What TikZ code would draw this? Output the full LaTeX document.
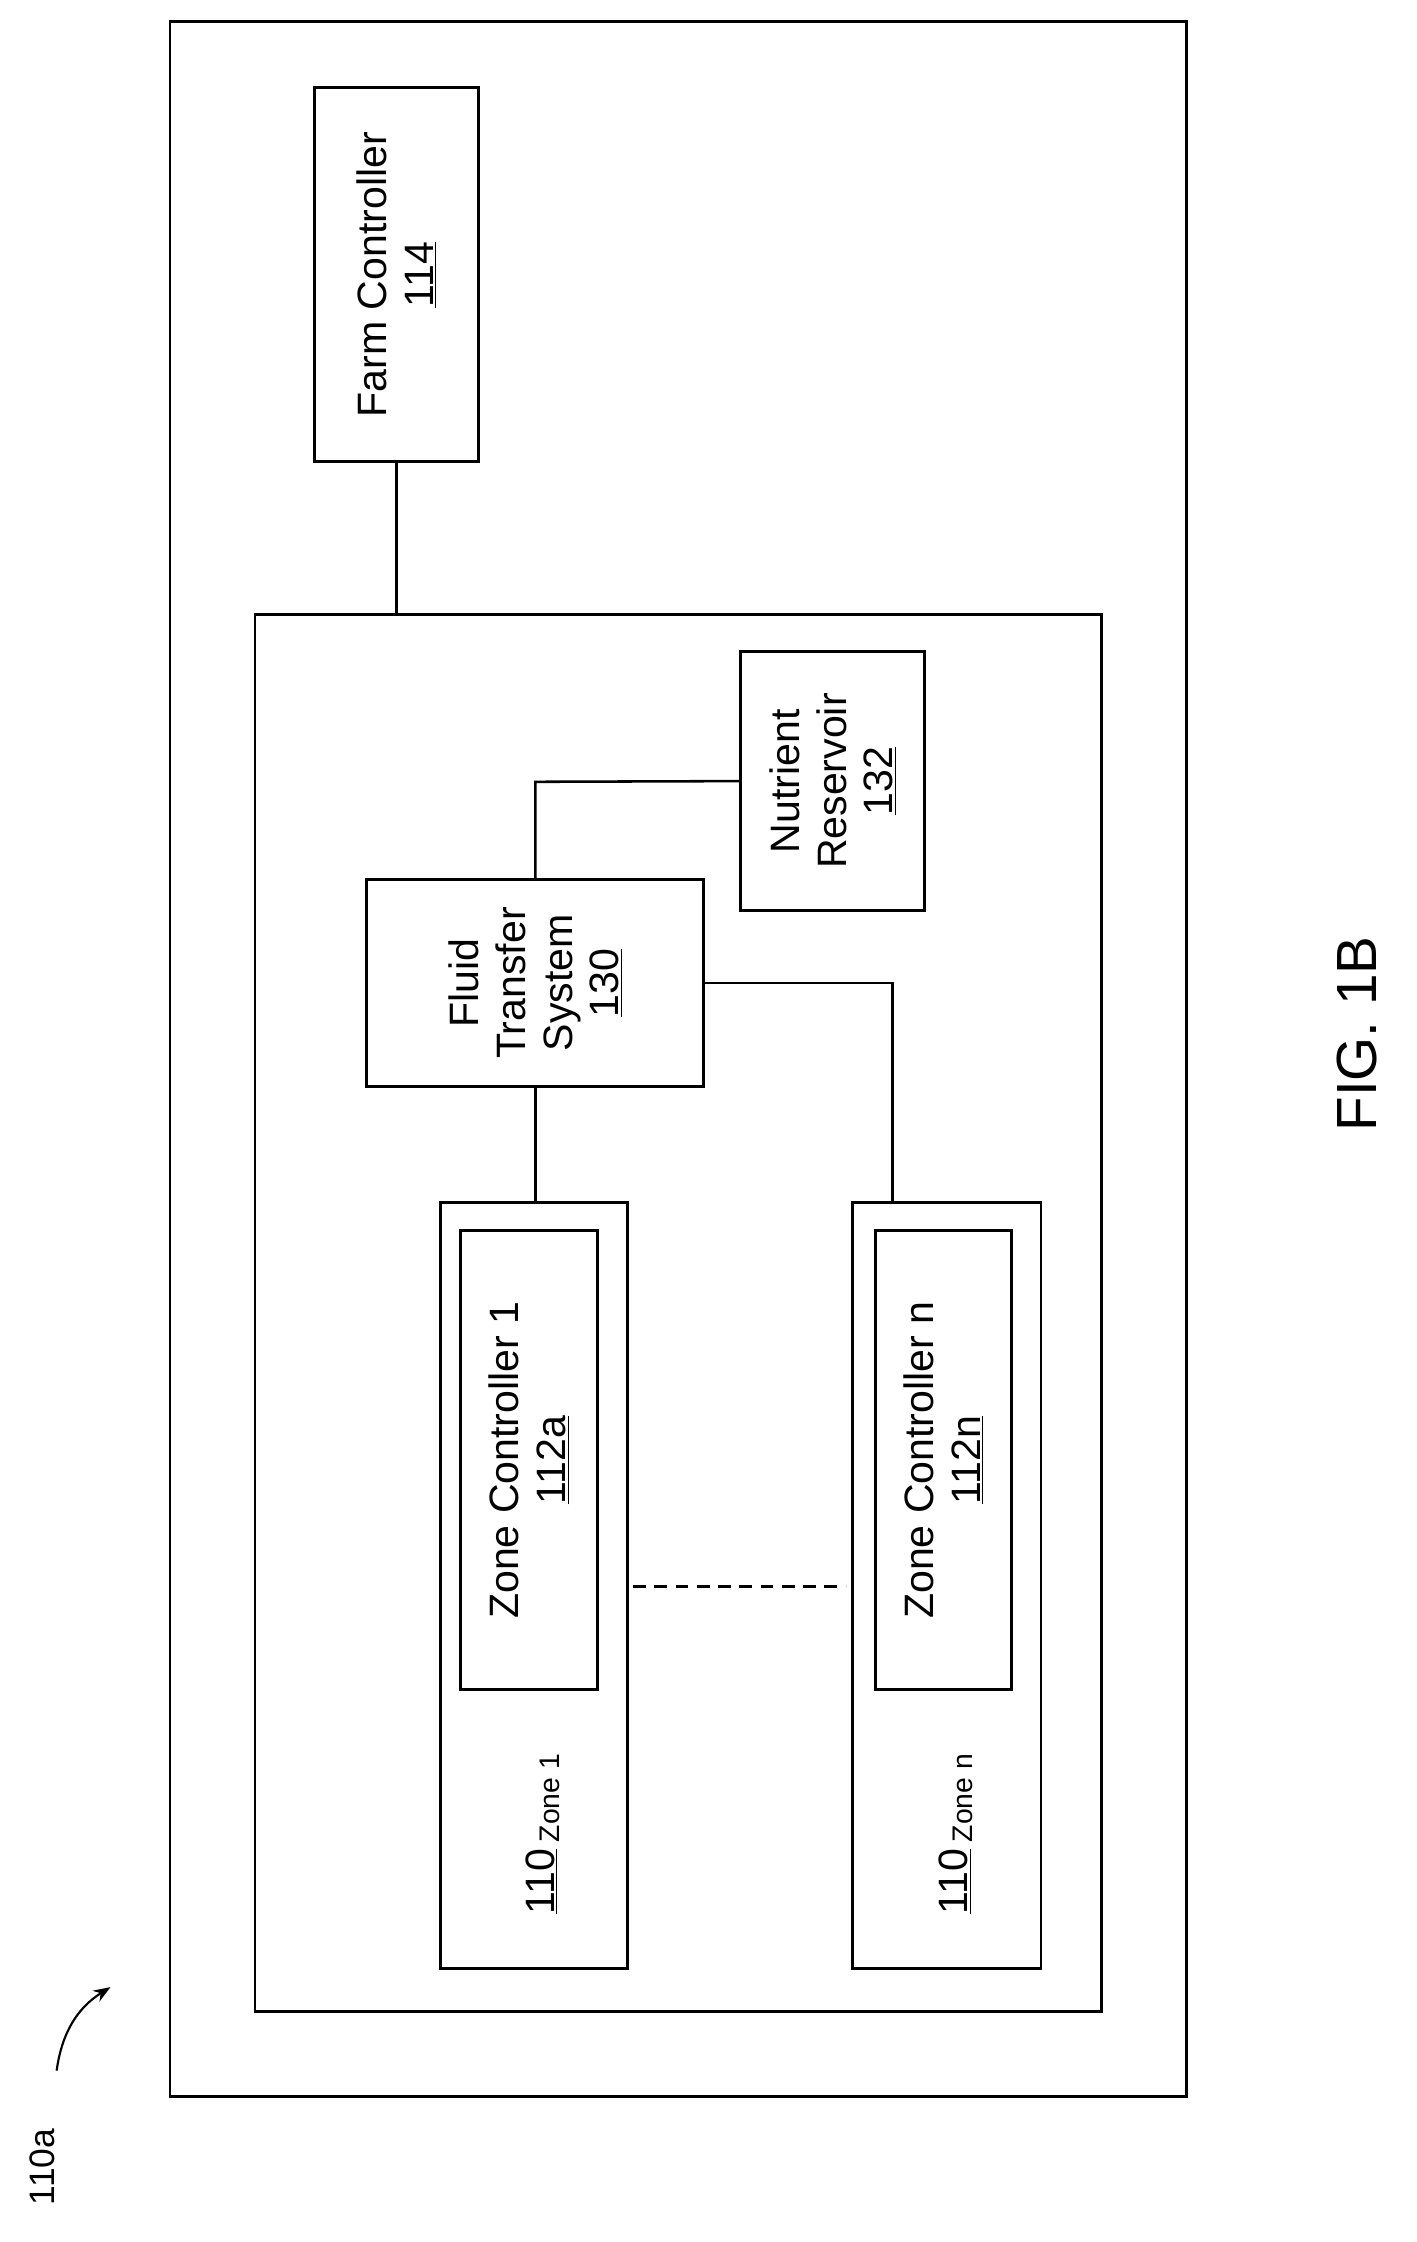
\documentclass[tikz,border=0pt]{standalone}
\usepackage{fontspec}
\setmainfont{Liberation Sans}
\usetikzlibrary{arrows.meta}
\begin{document}
\begin{tikzpicture}[x=1pt,y=-1pt,line width=2pt,
  box/.style={draw,line width=2pt},
  lbl/.style={rotate=90,align=center,font=\fontsize{29}{33}\selectfont},
  con/.style={line width=1.8pt}]
\useasboundingbox (0,0) rectangle (1000,1583);
\draw[box] (120,15) rectangle (838,1480);
\draw[box] (180,434) rectangle (778,1420);
\node[box,minimum width=116pt,minimum height=264pt] (farm) at (280,194) {};
\node[lbl] at (farm) {Farm Controller\\\underline{114}};
\node[box,minimum width=130pt,minimum height=183pt] (nut) at (588,551.5) {};
\node[lbl] at (nut) {Nutrient\\Reservoir\\\underline{132}};
\node[box,minimum width=238pt,minimum height=146pt] (fts) at (378,694) {};
\node[lbl] at (fts) {Fluid\\Transfer\\System\\\underline{130}};
\node[box,minimum width=132pt,minimum height=541pt] (z1) at (377,1119.5) {};
\node[box,minimum width=97pt,minimum height=324pt] (zc1) at (373.5,1031) {};
\node[lbl] at (zc1) {Zone Controller 1\\\underline{112a}};
\node[box,minimum width=133pt,minimum height=541pt] (zn) at (668.5,1119.5) {};
\node[box,minimum width=96pt,minimum height=324pt] (zcn) at (666,1031) {};
\node[lbl] at (zcn) {Zone Controller n\\\underline{112n}};
\node[rotate=90,font=\fontsize{29}{33}\selectfont] at (383,1295) {\underline{110}\,{\fontsize{20}{23}\selectfont\raisebox{-0.35ex}{Zone 1}}};
\node[rotate=90,font=\fontsize{29}{33}\selectfont] at (675,1295) {\underline{110}\,{\fontsize{20}{23}\selectfont\raisebox{-0.35ex}{Zone n}}};
\coordinate (ib) at (280,434);
\draw[con] (farm.south) -- (ib);
\draw[con] (378,621) -- (378,552) -- (nut.west);
\draw[con] (fts.south) -- (378,849);
\draw[con] (fts.east) -- (630,694) -- (630,849);
\coordinate (d1) at (447,1120); \coordinate (d2) at (597,1120);
\draw[con,dash pattern=on 9pt off 6pt] (d1) -- (d2);
\node[rotate=90,font=\fontsize{40}{46}\selectfont] (fig) at (958,730) {FIG. 1B};
\node[rotate=90,font=\fontsize{25}{29}\selectfont] (lab) at (30,1530) {110a};
\coordinate (tip) at (78,1403);
\draw[line width=1.5pt,-{Stealth[length=12pt]}] (40,1462) to[bend left=25] (tip);
\end{tikzpicture}
\end{document}
